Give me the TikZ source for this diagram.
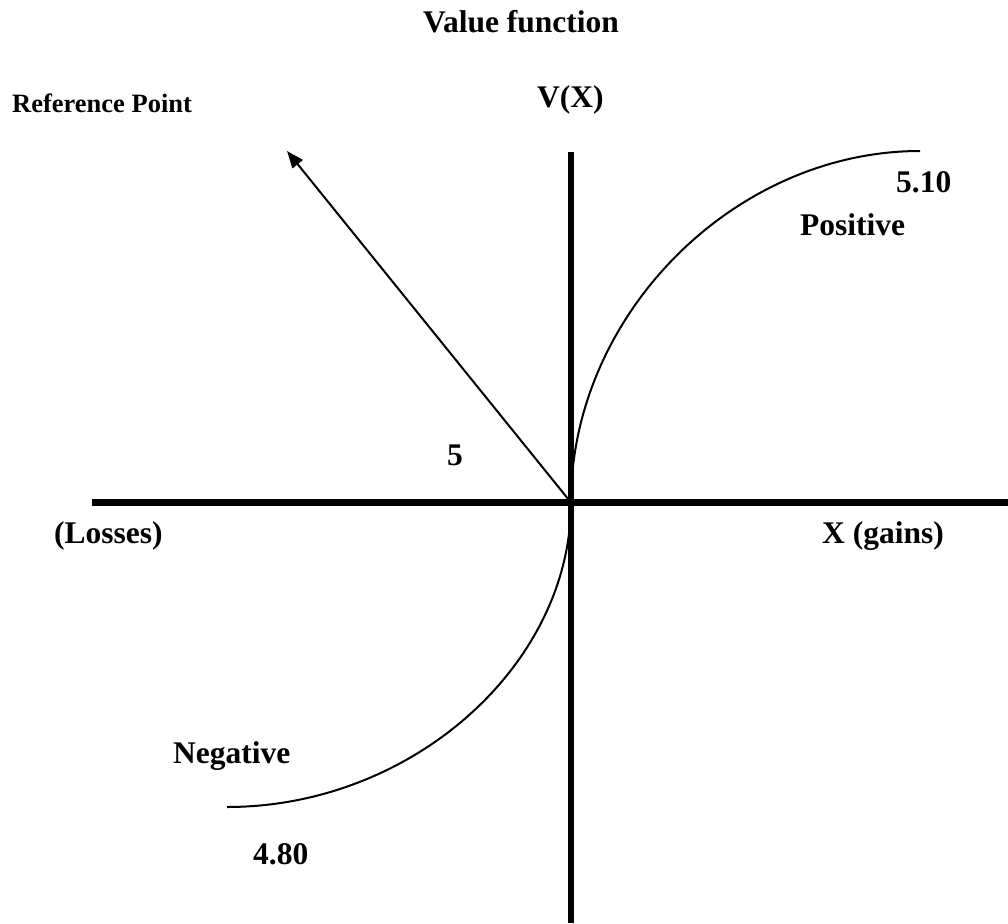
\documentclass[tikz,border=0pt]{standalone}
\usepackage{fontspec}
\setmainfont{Liberation Serif}
\usetikzlibrary{arrows.meta}
\begin{document}
\begin{tikzpicture}[x=1pt,y=-1pt,
  axisline/.style={line width=6.5pt},
  thinline/.style={line width=2pt},
  lbl/.style={inner sep=0pt, anchor=base west, font=\fontsize{31.5}{36}\selectfont\bfseries},
  smalllbl/.style={inner sep=0pt, anchor=base west, font=\fontsize{26.5}{30}\selectfont\bfseries}]
\useasboundingbox (0,0) rectangle (1008,923);
% axes
\coordinate (O) at (571,502.5);
\coordinate (xl) at (92,502.5);
\coordinate (xr) at (1008,502.5);
\coordinate (yt) at (571,152);
\coordinate (yb) at (571,923);
\draw[axisline] (xl) -- (xr);
\draw[axisline] (yt) -- (yb);
% curves
\coordinate (E1) at (920,151);
\coordinate (E2) at (227,807);
\draw[thinline] (O) .. controls (571,315) and (734,151) .. (E1);
\draw[thinline] (O) .. controls (571,665) and (412,807) .. (E2);
% reference point arrow
\coordinate (RP) at (287,151);
\draw[thinline, -{Triangle[length=17pt,width=13pt]}] (O) -- (RP);
% labels
\node[lbl] (title) at (423,33) {Value function};
\node[lbl] (vx) at (537,108) {V(X)};
\node[smalllbl] (ref) at (12,113) {Reference Point};
\node[lbl] (v510) at (896,192) {5.10};
\node[lbl] (pos) at (800,235) {Positive};
\node[lbl] (five) at (447,465) {5};
\node[lbl] (loss) at (54,543) {(Losses)};
\node[lbl] (gain) at (822,543) {X (gains)};
\node[lbl] (neg) at (173,763) {Negative};
\node[lbl] (v480) at (253,864) {4.80};
\end{tikzpicture}
\end{document}
